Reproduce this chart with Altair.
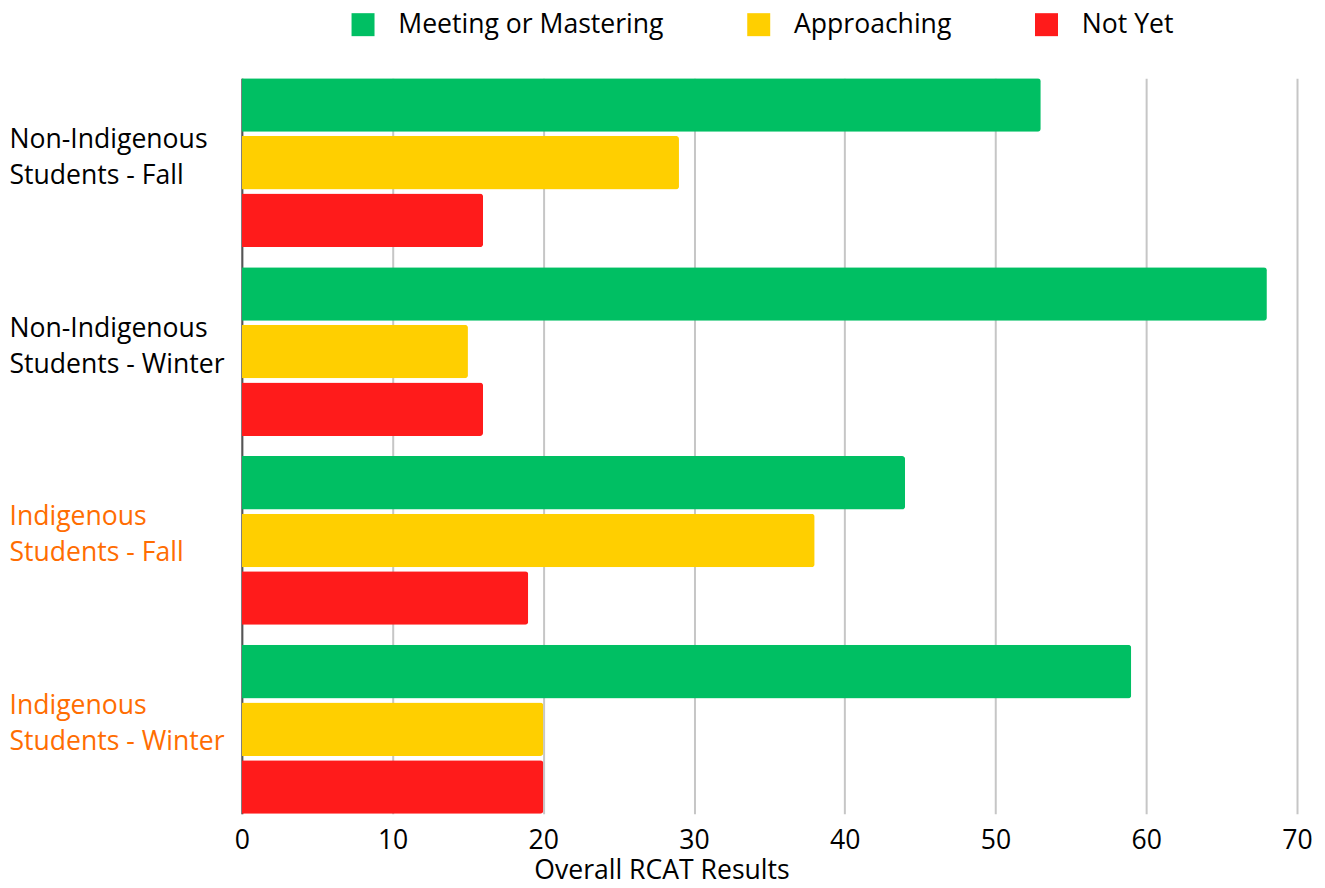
import altair as alt
import pandas as pd

groups = [
    "Non-Indigenous Students - Fall",
    "Non-Indigenous Students - Winter",
    "Indigenous Students - Fall",
    "Indigenous Students - Winter",
]
series = ["Meeting or Mastering", "Approaching", "Not Yet"]
meeting = [53, 68, 44, 59]
approaching = [29, 15, 38, 20]
not_yet = [16, 16, 19, 20]
colors = ["#00bf63", "#ffcf00", "#ff1b1b"]

rows = []
for i, g in enumerate(groups):
    for s, vals in zip(series, [meeting, approaching, not_yet]):
        rows.append({"Group": g, "Series": s, "Value": vals[i]})
df = pd.DataFrame(rows)

FONT = "Open Sans"
FS = 26.6

chart = (
    alt.Chart(df)
    .mark_bar(cornerRadiusEnd=3)
    .encode(
        y=alt.Y(
            "Group:N",
            sort=groups,
            scale=alt.Scale(paddingInner=0.106, paddingOuter=0),
            axis=alt.Axis(
                title=None,
                ticks=False,
                domain=True,
                domainColor="#555555",
                domainWidth=2,
                labelAlign="left",
                labelPadding=233,
                labelLimit=400,
                labelFontSize=FS,
                labelFont=FONT,
                labelLineHeight=36,
                labelBaseline="middle",
                labelOffset=-23,
                labelExpr="[slice(datum.label, 0, indexof(datum.label, ' Students')), slice(datum.label, indexof(datum.label, ' Students') + 1)]",
                labelColor={
                    "condition": {"test": "indexof(datum.value, 'Non') === 0", "value": "#000000"},
                    "value": "#ff6d01",
                },
            ),
        ),
        yOffset=alt.YOffset("Series:N", sort=series, scale=alt.Scale(paddingInner=0.07, paddingOuter=0)),
        x=alt.X(
            "Value:Q",
            scale=alt.Scale(domain=[0, 70], nice=False),
            axis=alt.Axis(
                title="Overall RCAT Results",
                values=[0, 10, 20, 30, 40, 50, 60, 70],
                domain=False,
                ticks=False,
                grid=True,
                gridColor="#c6c6c6",
                gridWidth=2,
                labelFontSize=FS,
                labelFont=FONT,
                labelColor="#000000",
                labelPadding=14,
                labelFlush=False,
                titleFont=FONT,
                titleFontSize=FS,
                titleFontWeight="normal",
                titleColor="#000000",
                titleX=420,
                titleY=57,
                titleAlign="center",
                titleBaseline="middle",
            ),
        ),
        color=alt.Color(
            "Series:N",
            sort=series,
            scale=alt.Scale(domain=series, range=colors),
            legend=alt.Legend(
                title=None,
                orient="none",
                direction="horizontal",
                legendX=108,
                legendY=-67,
                symbolType="square",
                symbolSize=529,
                symbolStrokeWidth=0,
                labelFontSize=FS,
                labelFont=FONT,
                labelColor="#000000",
                labelLimit=600,
                labelOffset=22,
                columnPadding=81,
            ),
        ),
    )
    .properties(
        width=1056,
        height=736,
        padding={"left": 234, "top": 70, "right": 20, "bottom": 66},
        autosize=alt.AutoSizeParams(type="none"),
    )
    .configure_view(stroke=None)
)

chart.save("out.html", embed_options={"renderer": "svg", "actions": False})
